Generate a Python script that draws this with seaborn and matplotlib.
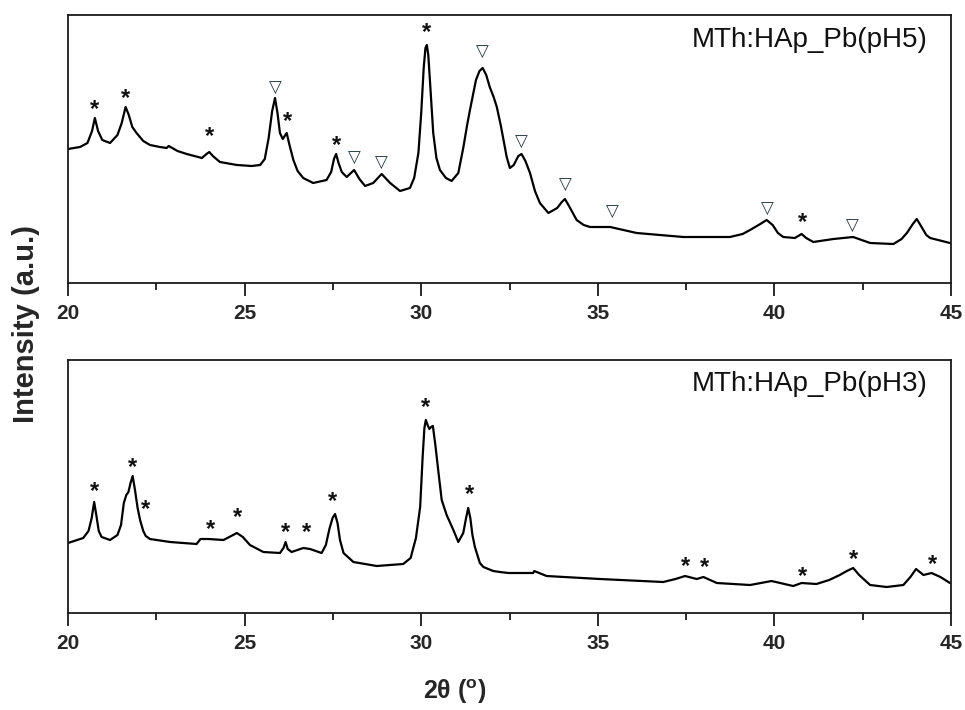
import matplotlib
matplotlib.use('Agg')
import matplotlib.pyplot as plt
import seaborn as sns

# XRD pattern, pH5 sample (top panel)
two_theta_ph5 = [20.00, 20.34, 20.55, 20.68, 20.76, 20.85, 20.97, 21.19, 21.40, 21.52,
                 21.63, 21.72, 21.82, 21.94, 22.13, 22.32, 22.60, 22.79, 22.85, 23.10,
                 23.36, 23.79, 23.92, 24.00, 24.10, 24.30, 24.78, 25.20, 25.44, 25.57,
                 25.68, 25.78, 25.86, 25.93, 26.00, 26.08, 26.19, 26.27, 26.38, 26.50,
                 26.66, 26.94, 27.32, 27.45, 27.53, 27.59, 27.66, 27.75, 27.89, 28.10,
                 28.25, 28.41, 28.64, 28.88, 29.12, 29.40, 29.68, 29.80, 29.92, 30.00,
                 30.07, 30.12, 30.16, 30.20, 30.26, 30.34, 30.43, 30.53, 30.70, 30.86,
                 31.05, 31.19, 31.30, 31.38, 31.55, 31.65, 31.74, 31.84, 31.94, 32.05,
                 32.14, 32.25, 32.33, 32.42, 32.51, 32.62, 32.75, 32.84, 32.95, 33.08,
                 33.22, 33.36, 33.60, 33.85, 33.98, 34.07, 34.20, 34.40, 34.60, 34.78,
                 35.35, 36.10, 37.42, 38.74, 39.10, 39.31, 39.60, 39.78, 39.95, 40.10,
                 40.25, 40.58, 40.77, 40.90, 41.10, 41.67, 42.23, 42.71, 43.37, 43.60,
                 43.75, 43.92, 44.03, 44.15, 44.30, 44.41, 44.97]
intensity_ph5 = [134, 136, 140, 152, 165, 152, 143, 140, 148, 160,
                 176, 168, 156, 150, 142, 138, 136, 135, 137, 132,
                 129, 125, 129, 131, 127, 121, 118, 117, 118, 124,
                 145, 172, 185, 170, 150, 144, 150, 138, 123, 112,
                 105, 100, 103, 111, 124, 129, 120, 111, 106, 113,
                 104, 97, 100, 109, 100, 92, 95, 105, 130, 170,
                 215, 235, 238, 228, 195, 150, 125, 113, 105, 102,
                 110, 135, 158, 173, 203, 212, 215, 208, 196, 186,
                 176, 158, 143, 126, 115, 118, 127, 129, 122, 110,
                 92, 80, 70, 75, 81, 84, 76, 63, 58, 56,
                 56, 50, 46, 46, 49, 53, 59, 63, 58, 50,
                 46, 45, 49, 45, 41, 44, 46, 40, 39, 44,
                 50, 59, 64, 57, 48, 45, 40]

# pH3 sample (bottom panel)
two_theta_ph3 = [20.00, 20.43, 20.58, 20.67, 20.74, 20.80, 20.87, 20.95, 21.19, 21.40,
                 21.50, 21.58, 21.65, 21.71, 21.77, 21.83, 21.90, 21.97, 22.04, 22.13,
                 22.20, 22.32, 22.89, 23.64, 23.75, 23.97, 24.40, 24.62, 24.78, 24.95,
                 25.15, 25.53, 26.00, 26.10, 26.16, 26.22, 26.33, 26.66, 26.85, 27.18,
                 27.30, 27.40, 27.49, 27.56, 27.63, 27.70, 27.80, 28.08, 28.74, 29.49,
                 29.70, 29.85, 29.97, 30.04, 30.09, 30.13, 30.18, 30.23, 30.28, 30.33,
                 30.40, 30.49, 30.58, 30.72, 30.91, 31.05, 31.19, 31.27, 31.33, 31.39,
                 31.45, 31.52, 31.66, 31.76, 32.04, 32.23, 32.47, 33.17, 33.20, 33.55,
                 35.06, 36.85, 37.20, 37.47, 37.80, 37.99, 38.37, 39.31, 39.92, 40.53,
                 40.77, 41.19, 41.55, 41.85, 42.05, 42.23, 42.40, 42.71, 43.18, 43.65,
                 43.85, 44.01, 44.22, 44.45, 44.70, 44.97]
intensity_ph3 = [70, 75, 82, 95, 111, 98, 82, 76, 73, 78,
                 88, 110, 118, 121, 130, 137, 122, 105, 93, 82,
                 77, 74, 71, 69, 74, 74, 73, 77, 80, 76,
                 68, 61, 60, 65, 71, 64, 61, 65, 64, 60,
                 68, 84, 95, 99, 90, 73, 60, 51, 47, 49,
                 55, 75, 106, 156, 185, 193, 188, 184, 186, 187,
                 168, 140, 113, 98, 83, 71, 80, 95, 105, 95,
                 78, 66, 50, 46, 42, 41, 40, 40, 42, 37,
                 34, 31, 34, 37, 34, 36, 30, 28, 32, 27,
                 30, 29, 33, 38, 42, 45, 38, 28, 26, 28,
                 36, 44, 38, 40, 36, 30]

# peak marks: (2theta, height)
stars_ph5_x = [20.76, 21.63, 24.0, 26.2, 27.59, 30.16, 40.8]
stars_ph5_y = [173, 184, 146, 161, 137, 250, 60]
tri_ph5_x = [25.86, 28.1, 28.88, 31.74, 32.84, 34.07, 35.4, 39.8, 42.2]
tri_ph5_y = [195, 125, 120, 231, 141, 98, 71, 74, 57]

stars_ph3_x = [20.74, 21.83, 22.18, 24.04, 24.79, 26.16, 26.76, 27.49, 30.11, 31.36,
               37.47, 38.01, 40.80, 42.25, 44.48]
stars_ph3_y = [121, 145, 103, 83, 95, 80, 80, 111, 205, 118,
               46, 45, 36, 53, 48]

sns.set_style('ticks')
plt.rcParams['font.family'] = ['Liberation Sans', 'DejaVu Sans']
plt.rcParams['mathtext.fontset'] = 'custom'
plt.rcParams['mathtext.rm'] = 'Liberation Sans:bold'
plt.rcParams['mathtext.bf'] = 'Liberation Sans:bold'
plt.rcParams['mathtext.it'] = 'Liberation Sans:bold'

fig = plt.figure(figsize=(9.65, 7.10), dpi=100)
ax1 = fig.add_axes([0.0705, 0.6014, 0.915, 0.3775])
ax2 = fig.add_axes([0.0705, 0.1366, 0.915, 0.3564])

panels = [
    (ax1, two_theta_ph5, intensity_ph5, 268, 'MTh:HAp_Pb(pH5)'),
    (ax2, two_theta_ph3, intensity_ph3, 253, 'MTh:HAp_Pb(pH3)'),
]
for ax, x, y, ytop, label in panels:
    sns.lineplot(x=x, y=y, ax=ax, color='black', linewidth=1.6, sort=False)
    ax.lines[-1].set_solid_joinstyle('round')
    ax.set_xlim(20, 45)
    ax.set_ylim(0, ytop)
    ax.set_yticks([])
    ax.set_xticks([20, 25, 30, 35, 40, 45])
    ax.set_xticks([22.5, 27.5, 32.5, 37.5, 42.5], minor=True)
    ax.tick_params(axis='x', which='major', direction='out', length=9, width=1.3,
                   labelsize=15, pad=6, color='#1a1a1a')
    ax.tick_params(axis='x', which='minor', direction='out', length=5, width=1.3,
                   color='#1a1a1a')
    for lab in ax.get_xticklabels():
        lab.set_fontweight('bold')
    for s in ax.spines.values():
        s.set_visible(True)
        s.set_linewidth(1.3)
        s.set_color('#1a1a1a')
    ax.set_xlabel('')
    ax.set_ylabel('')
    ax.text(0.974, 0.907, label, transform=ax.transAxes, ha='right', va='center',
            fontsize=20, color='#111111')

for xs, ys, ax in [(stars_ph5_x, stars_ph5_y, ax1), (stars_ph3_x, stars_ph3_y, ax2)]:
    for xv, yv in zip(xs, ys):
        ax.text(xv, yv, '*', ha='center', va='center', fontsize=17,
                fontweight='bold', color='#111111')
for xv, yv in zip(tri_ph5_x, tri_ph5_y):
    ax1.text(xv, yv, '▽', ha='center', va='center', fontsize=12,
             color='#2a3a40', family=['DejaVu Sans'])

fig.text(0.027, 1 - 324 / 710, 'Intensity (a.u.)', rotation=90, ha='center',
         va='center', fontsize=21, fontweight='bold')
fig.text(455 / 965, 1 - 692 / 710, r'2θ ($^{\mathbf{o}}$)', ha='center', va='center',
         fontsize=18, fontweight='bold')

fig.savefig('out.png', dpi=100)
